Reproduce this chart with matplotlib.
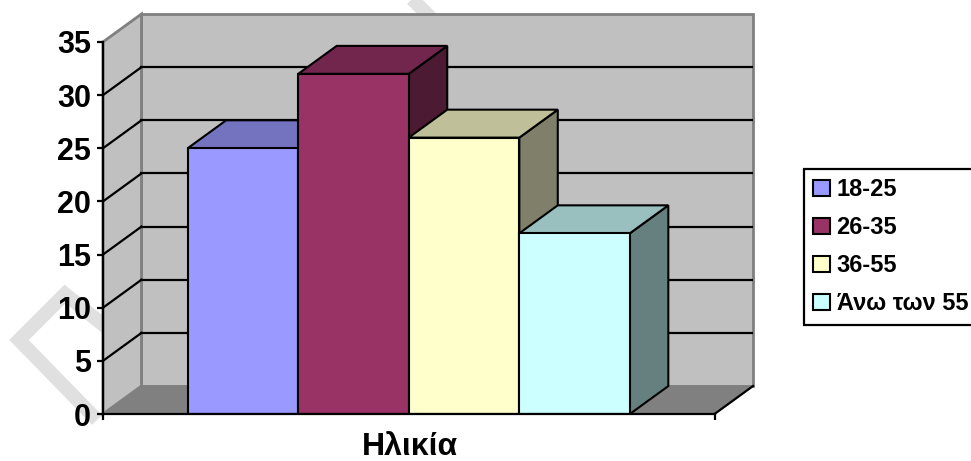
import matplotlib as mpl
mpl.use('Agg')
from matplotlib import pyplot as plt
from matplotlib.patches import Polygon, Rectangle, Patch
from matplotlib.lines import Line2D

# age groups (percent of respondents)
groups = ['18-25', '26-35', '36-55', 'Άνω των 55']
values = [25, 32, 26, 17]
front_colors = ['#9999FF', '#993366', '#FFFFCC', '#CCFFFF']
top_colors = ['#7373BF', '#73264D', '#BFBF99', '#99BFBF']
side_colors = ['#4D4D80', '#4D1A33', '#80806A', '#668080']
yticks = [0, 5, 10, 15, 20, 25, 30, 35]
xlabel = 'Ηλικία'

plt.rcParams['font.family'] = ['Liberation Sans', 'DejaVu Sans']
plt.rcParams['font.weight'] = 'bold'

W, H = 971, 461
fig = plt.figure(figsize=(W / 100, H / 100), dpi=100)

# faint watermark strokes in the background
wm = dict(color='#E0E0E0', lw=10, solid_joinstyle='miter', solid_capstyle='butt',
          zorder=-5, transform=fig.transFigure)
pts = [(112, 332), (65, 294), (19, 340), (97, 420)]
fig.add_artist(Line2D([p[0] / W for p in pts], [1 - p[1] / H for p in pts], **wm))
pts = [(405, -8), (455, 42)]
fig.add_artist(Line2D([p[0] / W for p in pts], [1 - p[1] / H for p in pts], **wm))

ax = fig.add_axes([103 / W, 47 / H, 650 / W, 400 / H])
ax.patch.set_visible(False)

xl, xr = -0.766, 4.766      # floor front edge
ymax = 35
ddx, ddy = 0.348, 2.63      # depth offset of the 3d box
ax.set_xlim(xl, xr + ddx)
ax.set_ylim(0, ymax + ddy)

wall = '#C0C0C0'
edge = '#808080'
# back wall, side wall, floor
ax.add_patch(Rectangle((xl + ddx, ddy), xr - xl, ymax, fc=wall, ec=edge, lw=2,
                       clip_on=False, zorder=1))
ax.add_patch(Polygon([(xl, 0), (xl + ddx, ddy), (xl + ddx, ymax + ddy), (xl, ymax)],
                     closed=True, fc=wall, ec=edge, lw=2, clip_on=False, zorder=1))
ax.add_patch(Polygon([(xl, 0), (xr, 0), (xr + ddx, ddy), (xl + ddx, ddy)],
                     closed=True, fc='#808080', ec=edge, lw=1, clip_on=False, zorder=1))
ax.plot([xr, xr + ddx], [0, ddy], color='black', lw=1.6, zorder=2, clip_on=False)

# gridlines on both walls
for v in yticks[1:-1]:
    ax.plot([xl + ddx, xr + ddx], [v + ddy, v + ddy], color='black', lw=1.6, zorder=2)
    ax.plot([xl, xl + ddx], [v, v + ddy], color='black', lw=1.6, zorder=2)

# columns: side and top faces first, then the front face
for i, v in enumerate(values):
    x0, x1 = i, i + 1
    ax.add_patch(Polygon([(x1, 0), (x1 + ddx, ddy), (x1 + ddx, v + ddy), (x1, v)],
                         closed=True, fc=side_colors[i], ec='black', lw=1.5,
                         zorder=3 + i))
    ax.add_patch(Polygon([(x0, v), (x0 + ddx, v + ddy), (x1 + ddx, v + ddy), (x1, v)],
                         closed=True, fc=top_colors[i], ec='black', lw=1.5,
                         zorder=3 + i))
    ax.bar(x0, v, width=1, align='edge', color=front_colors[i], edgecolor='black',
           lw=1.5, zorder=3 + i)

for s in ['top', 'right']:
    ax.spines[s].set_visible(False)
for s in ['left', 'bottom']:
    ax.spines[s].set_linewidth(1.6)
    ax.spines[s].set_zorder(10)
ax.spines['left'].set_bounds(0, ymax)
ax.spines['bottom'].set_bounds(xl, xr)

ax.set_yticks(yticks)
ax.set_yticklabels([str(t) for t in yticks], fontsize=22, fontweight='bold')
ax.set_xticks([xl, xr])
ax.set_xticklabels(['', ''])
ax.tick_params(axis='both', length=4.5, width=1.6, direction='out', pad=4)

fig.text(410 / W, 1 - 447 / H, xlabel, ha='center', va='center',
         fontsize=23, fontweight='bold')

handles = [Patch(facecolor=c, edgecolor='black', lw=1.5) for c in front_colors]
leg = fig.legend(handles, groups, loc='upper left',
                 bbox_to_anchor=(804 / W, 1 - 169 / H), borderaxespad=0,
                 frameon=True, fancybox=False, framealpha=1, edgecolor='black',
                 prop={'size': 17, 'weight': 'bold'},
                 handlelength=0.68, handleheight=0.68, handletextpad=0.3,
                 labelspacing=0.63, borderpad=0.4)
leg.get_frame().set_linewidth(1.6)

fig.savefig('out.png', dpi=100)
